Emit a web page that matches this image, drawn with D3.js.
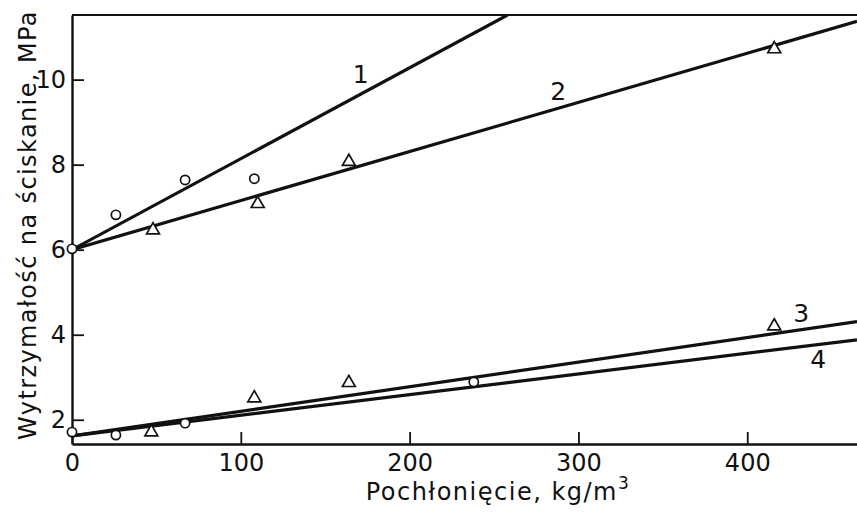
<!DOCTYPE html>
<html>
<head>
<meta charset="utf-8">
<script src="https://cdn.jsdelivr.net/npm/d3@7"></script>
<style>
  body { margin: 0; background: #fff; }
  svg { display: block; }
  text { font-family: "DejaVu Sans", sans-serif; fill: #111; }
</style>
</head>
<body>
<div id="graph"></div>
<script>
const graphWidth = 857;
const graphHeight = 512;

const plotLeft = 72;
const plotRight = 857;
const plotTop = 15;
const plotBottom = 444;

// Data
const xTicks = [0, 100, 200, 300, 400];
const yTicks = [2, 4, 6, 8, 10];

const circlesUpper = [[0, 6.02], [26, 6.82], [67, 7.64], [108, 7.67]];
const trianglesUpper = [[48, 6.46], [110, 7.08], [164, 8.07], [416, 10.72]];
const circlesLower = [[0, 1.71], [26, 1.64], [67, 1.92], [238, 2.89]];
const trianglesLower = [[47, 1.71], [108, 2.51], [164, 2.87], [416, 4.2]];

const lineNames = ['1', '2', '3', '4'];
const lineStarts = [[0, 6.0], [0, 6.0], [0, 1.62], [0, 1.62]];
const lineEnds = [[258, 11.52], [465, 11.37], [465, 4.31], [465, 3.88]];
const lineLabelAt = [[171, 9.92], [288, 9.52], [432, 4.3], [442, 3.22]];

const xTitle = 'Pochłonięcie, kg/m';
const xTitleSup = '3';
const yTitle = 'Wytrzymałość na ściskanie, MPa';

const x = d3.scaleLinear().domain([0, 465]).range([plotLeft, plotRight]);
const y = d3.scaleLinear().domain([1.43, 11.52]).range([plotBottom, plotTop]);

function makeGraph() {
  const palette = makePalette('#graph', graphWidth, graphHeight);
  makeClip(palette);
  makeFrame(palette);
  makeAxes(palette);
  makeLines(palette);
  makeMarkers(palette);
  makeTitles(palette);
}

function makePalette(sel, width, height) {
  return d3.select(sel).append('svg')
    .attr('width', width)
    .attr('height', height);
}

function makeClip(svg) {
  svg.append('clipPath').attr('id', 'plot-clip')
    .append('rect')
    .attr('x', plotLeft).attr('y', plotTop)
    .attr('width', plotRight - plotLeft)
    .attr('height', plotBottom - plotTop);
}

function makeFrame(svg) {
  svg.append('line')
    .attr('x1', plotLeft).attr('x2', plotRight)
    .attr('y1', plotTop).attr('y2', plotTop)
    .attr('stroke', '#111').attr('stroke-width', 2.2);
}

function makeAxes(svg) {
  const xAxis = svg.append('g')
    .attr('transform', translate(0, plotBottom))
    .call(d3.axisBottom(x).tickValues(xTicks).tickSizeInner(-12).tickSizeOuter(0).tickPadding(10));
  const yAxis = svg.append('g')
    .attr('transform', translate(plotLeft, 0))
    .call(d3.axisLeft(y).tickValues(yTicks).tickSizeInner(-12).tickSizeOuter(0).tickPadding(6));

  [xAxis, yAxis].forEach(g => {
    g.attr('font-family', null).attr('font-size', 24);
    g.select('.domain').attr('stroke', '#111').attr('stroke-width', 2.4);
    g.selectAll('.tick line').attr('stroke', '#111').attr('stroke-width', 1.8);
    g.selectAll('.tick text').attr('fill', '#111');
  });
}

function makeLines(svg) {
  const g = svg.append('g').attr('clip-path', 'url(#plot-clip)');
  const line = d3.line().x(d => x(d[0])).y(d => y(d[1]));
  construct(g, lineNames, 'path')
    .attr('d', (d, i) => line([lineStarts[i], lineEnds[i]]))
    .attr('fill', 'none')
    .attr('stroke', '#111')
    .attr('stroke-width', 3.2);

  construct(svg.append('g'), lineNames, 'text')
    .attr('x', (d, i) => x(lineLabelAt[i][0]))
    .attr('y', (d, i) => y(lineLabelAt[i][1]))
    .attr('text-anchor', 'middle')
    .attr('font-size', 25)
    .text(d => d);
}

function makeMarkers(svg) {
  const circles = circlesUpper.concat(circlesLower);
  const triangles = trianglesUpper.concat(trianglesLower);

  construct(svg.append('g'), circles, 'circle')
    .attr('cx', d => x(d[0]))
    .attr('cy', d => y(d[1]))
    .attr('r', 4.6)
    .attr('fill', '#fff')
    .attr('stroke', '#111')
    .attr('stroke-width', 1.7);

  construct(svg.append('g'), triangles, 'path')
    .attr('d', d3.symbol(d3.symbolTriangle, 72))
    .attr('transform', d => translate(x(d[0]), y(d[1])))
    .attr('fill', '#fff')
    .attr('stroke', '#111')
    .attr('stroke-width', 1.7);
}

function makeTitles(svg) {
  const xt = svg.append('text')
    .attr('x', 498)
    .attr('y', 500)
    .attr('text-anchor', 'middle')
    .attr('font-size', 24)
    .attr('letter-spacing', 1.5);
  xt.append('tspan').text(xTitle);
  xt.append('tspan')
    .attr('dy', -11)
    .attr('font-size', 17)
    .text(xTitleSup);

  svg.append('text')
    .attr('transform', translate(36, 225) + ' rotate(-90)')
    .attr('text-anchor', 'middle')
    .attr('font-size', 24)
    .attr('letter-spacing', 1.4)
    .text(yTitle);
}

// Utilities

function construct(sel, data, tag) {
  return sel.selectAll(tag).data(data).enter().append(tag);
}

function translate(x, y) {
  return 'translate(' + x + ',' + y + ')';
}

makeGraph();
</script>
</body>
</html>
